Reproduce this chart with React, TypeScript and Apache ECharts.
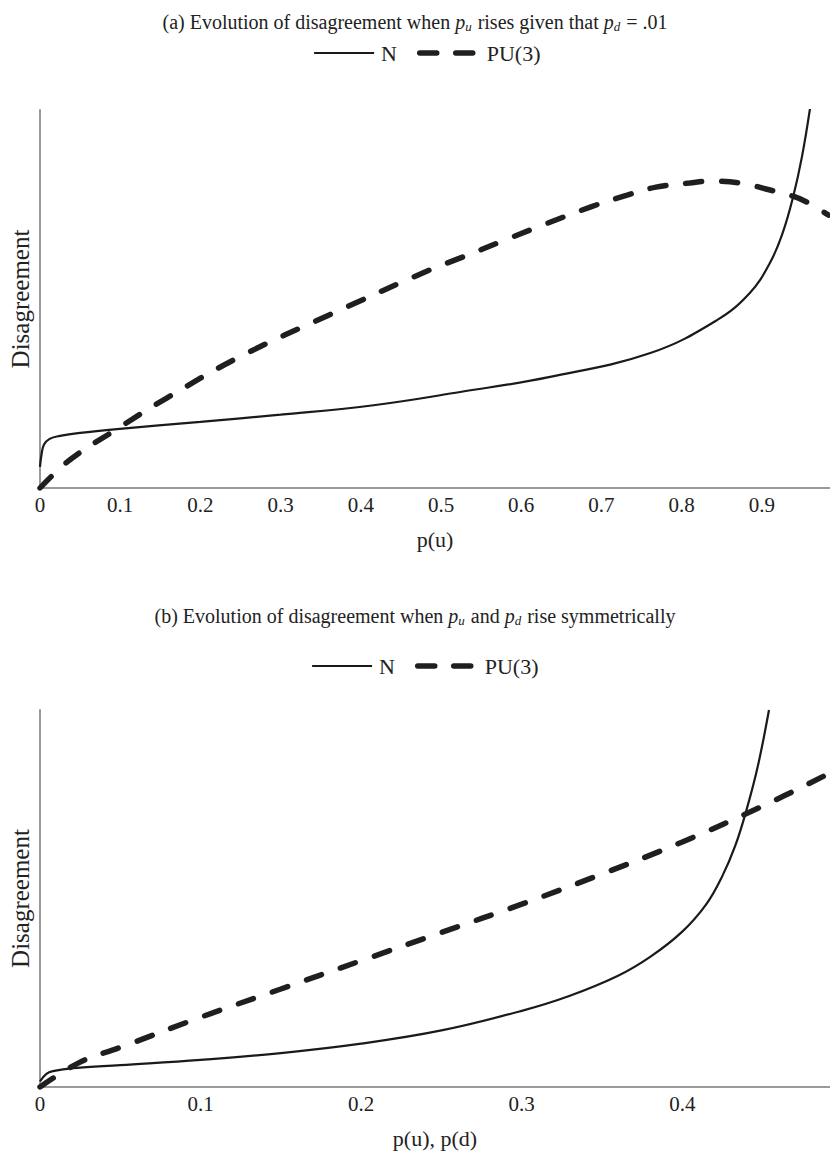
import React, { useEffect, useRef } from "react";
import * as echarts from "echarts";

const FONT = '"Liberation Serif", "Times New Roman", serif';

// ---- Panel (a): p_d = .01, p_u rising ----
const aNX = [0, 0.002, 0.005, 0.012, 0.025, 0.05, 0.096, 0.2, 0.3, 0.416, 0.524, 0.636, 0.761, 0.844, 0.885, 0.91, 0.926, 0.939, 0.95, 0.96];
const aNY = [5.6, 9, 11.5, 13, 13.8, 14.6, 15.6, 17.5, 19.4, 21.9, 25.4, 29.4, 35.7, 44.4, 51.6, 59.5, 67.5, 77, 87.6, 100.3];
const aPX = [0, 0.037, 0.096, 0.158, 0.249, 0.366, 0.486, 0.527, 0.574, 0.62, 0.686, 0.732, 0.768, 0.81, 0.839, 0.86, 0.885, 0.905, 0.939, 0.96, 0.983];
const aPY = [0, 7.4, 15.6, 23.8, 34.7, 46.3, 57.7, 61.1, 65.1, 69.0, 74.3, 77.5, 79.6, 80.7, 81.2, 81.0, 80.2, 79.1, 77.2, 75.2, 72.2];
const aXMax = 0.985;

// ---- Panel (b): p_u and p_d rising symmetrically ----
const bNX = [0, 0.004, 0.008, 0.021, 0.05, 0.1, 0.15, 0.2, 0.25, 0.3, 0.33, 0.36, 0.38, 0.4, 0.415, 0.425, 0.433, 0.44, 0.447, 0.454];
const bNY = [1.5, 3.5, 4.2, 5.0, 5.8, 7.2, 9.0, 11.5, 15.0, 20.2, 24.2, 29.5, 34.5, 41.2, 48.5, 56, 64, 73.5, 85, 100];
const bPX = [0, 0.025, 0.05, 0.1, 0.15, 0.2, 0.25, 0.3, 0.35, 0.4, 0.45, 0.492];
const bPY = [0, 6.6, 10.5, 18.5, 26, 33.5, 41, 48.5, 56.5, 65, 74.5, 83.3];
const bXMax = 0.492;

const seriesNames = ["N", "PU(3)"];
const titleA = "(a) Evolution of disagreement when {i|p}{s|u} rises given that {i|p}{s|d} = .01";
const titleB = "(b) Evolution of disagreement when {i|p}{s|u} and {i|p}{s|d} rise symmetrically";
const xNameA = "p(u)";
const xNameB = "p(u), p(d)";
const yName = "Disagreement";

const zip = (xs: number[], ys: number[]) => xs.map((x, i) => [x, ys[i]]);

export default function App() {
  const ref = useRef<HTMLDivElement>(null);
  useEffect(() => {
    if (!ref.current) return;
    const chart = echarts.init(ref.current, undefined, { renderer: "svg" });
    const axisLineStyle = { color: "#9a9a9a", width: 2 };
    const TS = 20;
    const richTitle = {
      i: { fontFamily: FONT, fontSize: TS, fontStyle: "italic", color: "#222" },
      s: { fontFamily: FONT, fontSize: 13, fontStyle: "italic", color: "#222", verticalAlign: "top", padding: [10, 1, 0, 0] },
    };
    const xAxisBase = (max: number, name: string, gridIndex: number) => ({
      type: "value",
      gridIndex,
      min: 0,
      max,
      interval: 0.1,
      name,
      nameLocation: "middle",
      nameGap: 40,
      nameTextStyle: { fontFamily: FONT, fontSize: 22, color: "#222" },
      axisLine: { show: true, lineStyle: axisLineStyle },
      axisTick: { show: false },
      splitLine: { show: false },
      axisLabel: { fontFamily: FONT, fontSize: 21, color: "#222", margin: 6, showMaxLabel: false },
    });
    const yAxisBase = (gridIndex: number) => ({
      type: "value",
      gridIndex,
      min: 0,
      max: 100,
      name: yName,
      nameLocation: "middle",
      nameRotate: 90,
      nameGap: 7,
      nameTextStyle: { fontFamily: FONT, fontSize: 25, color: "#222" },
      axisLine: { show: true, lineStyle: axisLineStyle },
      axisTick: { show: false },
      splitLine: { show: false },
      axisLabel: { show: false },
    });
    const nStyle = { color: "#1a1a1a", width: 2.2, type: "solid" };
    const pStyle = { color: "#1f1f1f", width: 5.5, type: [16, 20], cap: "round" };
    const mkSeries = (name: string, data: number[][], idx: number, style: any) => ({
      name,
      type: "line",
      xAxisIndex: idx,
      yAxisIndex: idx,
      data,
      showSymbol: false,
      symbol: "none",
      smooth: 0.4,
      lineStyle: style,
      itemStyle: { color: style.color },
      clip: true,
    });
    const legendBase = (left: number, top: number) => ({
      left,
      top,
      itemWidth: 60,
      itemHeight: 20,
      itemGap: 20,
      textStyle: { fontFamily: FONT, fontSize: 22, color: "#222", padding: [0, 0, 0, 2] },
      data: [
        { name: seriesNames[0], itemStyle: { opacity: 0 }, lineStyle: { width: 2.2, type: "solid", color: "#1a1a1a" } },
        { name: seriesNames[1], itemStyle: { opacity: 0 }, lineStyle: { width: 5.5, type: [17, 19], cap: "round", color: "#1f1f1f" } },
      ],
      selectedMode: false,
    });
    chart.setOption({
      animation: false,
      backgroundColor: "#ffffff",
      title: [
        { text: titleA, left: "center", top: 5, textStyle: { fontFamily: FONT, fontSize: TS, fontWeight: "normal", color: "#222", rich: richTitle } },
        { text: titleB, left: "center", top: 599, textStyle: { fontFamily: FONT, fontSize: TS, fontWeight: "normal", color: "#222", rich: richTitle } },
      ],
      legend: [legendBase(308, 37), legendBase(306, 650)],
      grid: [
        { left: 40, top: 110, width: 790, height: 378, containLabel: false },
        { left: 40, top: 710, width: 790, height: 377, containLabel: false },
      ],
      xAxis: [xAxisBase(aXMax, xNameA, 0), xAxisBase(bXMax, xNameB, 1)],
      yAxis: [yAxisBase(0), yAxisBase(1)],
      series: [
        mkSeries(seriesNames[0], zip(aNX, aNY), 0, nStyle),
        mkSeries(seriesNames[1], zip(aPX, aPY), 0, pStyle),
        mkSeries(seriesNames[0], zip(bNX, bNY), 1, nStyle),
        mkSeries(seriesNames[1], zip(bPX, bPY), 1, pStyle),
      ],
    });
    return () => chart.dispose();
  }, []);
  return <div ref={ref} style={{ position: "absolute", left: 0, top: 0, width: 830, height: 1155 }} />;
}
